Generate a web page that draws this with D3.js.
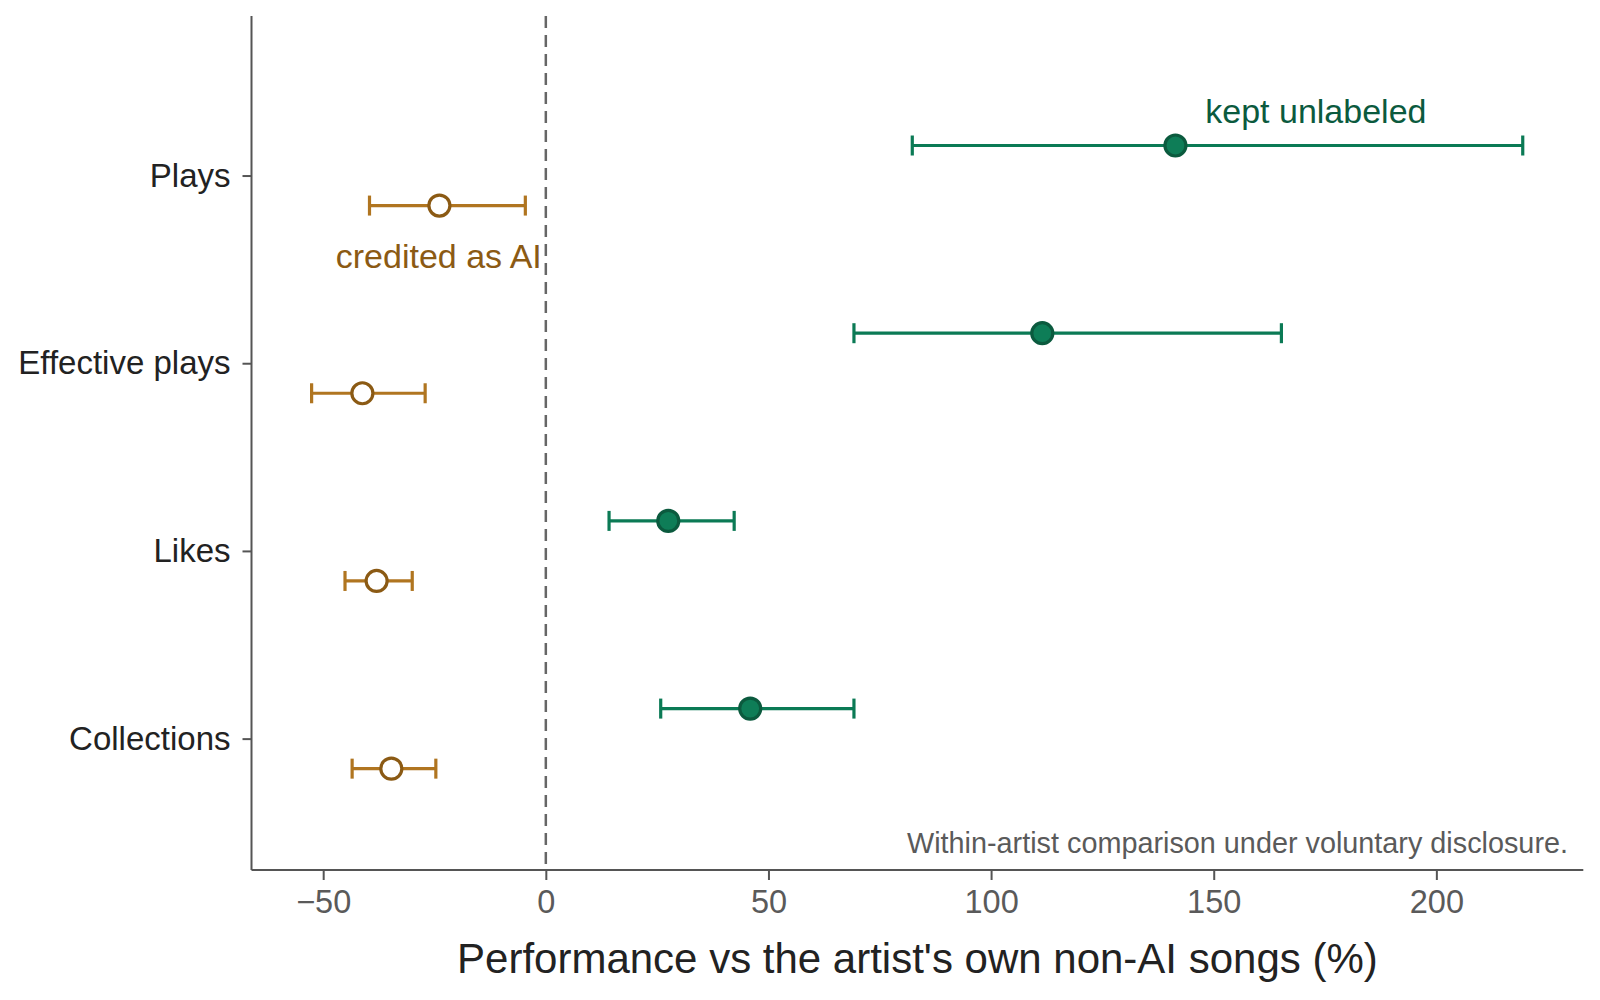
<!DOCTYPE html>
<html lang="en">
<head>
    <meta charset="UTF-8">
    <title>Performance vs the artist's own non-AI songs</title>
    <script src="https://d3js.org/d3.v7.min.js"></script>
    <style>
        body { margin: 0; background: #fff; }
        svg { display: block; font-family: "Liberation Sans", Arial, sans-serif; }
        .tick-y text { font-size: 33px; fill: #222; }
        .tick-x text { font-size: 32.5px; fill: #5a5a5a; }
        .axis-label { font-size: 42px; fill: #222; }
    </style>
</head>
<body>
    <div id="chart"></div>

    <script>
        // data
        const categories = ["Plays", "Effective plays", "Likes", "Collections"];

        const unlabeledEst = [141.4, 111.5, 27.5, 45.9];
        const unlabeledLo  = [82.3, 69.2, 14.2, 25.8];
        const unlabeledHi  = [219.4, 165.2, 42.3, 69.2];

        const creditedEst = [-23.9, -41.2, -38.0, -34.7];
        const creditedLo  = [-39.6, -52.6, -45.1, -43.5];
        const creditedHi  = [-4.6, -27.1, -30.0, -24.7];

        const xTicks = [-50, 0, 50, 100, 150, 200];

        const width = 1600, height = 1000;
        const margin = { top: 16, right: 16.7, bottom: 130, left: 251.5 };

        const svg = d3.select("#chart").append("svg")
            .attr("width", width)
            .attr("height", height);

        const x = d3.scaleLinear()
            .domain([-66.1, 233])
            .range([margin.left, width - margin.right]);

        // categories placed top to bottom, Plays at 3 ... Collections at 0
        const catPos = d => categories.length - 1 - categories.indexOf(d);
        const y = d3.scaleLinear()
            .domain([-0.7, 3.85])
            .range([height - margin.bottom, margin.top]);

        const offset = 0.16;

        const series = [
            { name: "kept unlabeled", est: unlabeledEst, lo: unlabeledLo, hi: unlabeledHi,
              dy: offset, line: "#0b7a55", fill: "#0e7d57", stroke: "#0b5a3e" },
            { name: "credited as AI", est: creditedEst, lo: creditedLo, hi: creditedHi,
              dy: -offset, line: "#b07520", fill: "#ffffff", stroke: "#8b5a14" }
        ];

        // reference line at zero
        svg.append("line")
            .attr("x1", x(0)).attr("x2", x(0))
            .attr("y1", margin.top).attr("y2", height - margin.bottom)
            .attr("stroke", "#666")
            .attr("stroke-width", 2.5)
            .attr("stroke-dasharray", "12,7");

        // axes
        const xAxis = svg.append("g")
            .attr("class", "tick-x")
            .attr("transform", `translate(0,${height - margin.bottom})`)
            .call(d3.axisBottom(x).tickValues(xTicks).tickSize(10).tickPadding(10)
                .tickFormat(d => d < 0 ? "\u2212" + Math.abs(d) : d));
        xAxis.select(".domain").attr("stroke", "#555").attr("stroke-width", 2)
            .attr("d", `M${margin.left},0H${width - margin.right}`);
        xAxis.selectAll(".tick line").attr("stroke", "#555").attr("stroke-width", 2);
        xAxis.selectAll("text").attr("font-family", null).attr("font-size", null);

        const yAxis = svg.append("g")
            .attr("class", "tick-y")
            .attr("transform", `translate(${margin.left},0)`)
            .call(d3.axisLeft(y).tickValues(categories.map(catPos)).tickSize(9).tickPadding(12)
                .tickFormat(v => categories[categories.length - 1 - v]));
        yAxis.select(".domain").attr("stroke", "#555").attr("stroke-width", 2)
            .attr("d", `M0,${margin.top}V${height - margin.bottom}`);
        yAxis.selectAll(".tick line").attr("stroke", "#555").attr("stroke-width", 2);
        yAxis.selectAll("text").attr("font-family", null).attr("font-size", null);

        // error bars and points
        series.forEach(s => {
            const rows = categories.map((c, i) => ({ c: c, est: s.est[i], lo: s.lo[i], hi: s.hi[i] }));
            const g = svg.append("g");
            const yy = d => y(catPos(d.c) + s.dy);

            g.selectAll(".ci").data(rows).enter().append("line")
                .attr("x1", d => x(d.lo)).attr("x2", d => x(d.hi))
                .attr("y1", yy).attr("y2", yy)
                .attr("stroke", s.line).attr("stroke-width", 3.2);

            ["lo", "hi"].forEach(k => {
                g.selectAll(".cap-" + k).data(rows).enter().append("line")
                    .attr("x1", d => x(d[k])).attr("x2", d => x(d[k]))
                    .attr("y1", d => yy(d) - 10).attr("y2", d => yy(d) + 10)
                    .attr("stroke", s.line).attr("stroke-width", 3.2);
            });

            g.selectAll("circle").data(rows).enter().append("circle")
                .attr("cx", d => x(d.est)).attr("cy", yy)
                .attr("r", 10.5)
                .attr("fill", s.fill)
                .attr("stroke", s.stroke)
                .attr("stroke-width", 3.2);
        });

        // direct labels
        svg.append("text")
            .attr("x", x(148.1)).attr("y", y(3.28))
            .attr("font-size", 34).attr("fill", "#0b5a3e")
            .text("kept unlabeled");

        svg.append("text")
            .attr("x", x(-0.9)).attr("y", y(2.51))
            .attr("text-anchor", "end")
            .attr("font-size", 34).attr("fill", "#8b5a14")
            .text("credited as AI");

        svg.append("text")
            .attr("x", 1568).attr("y", 853)
            .attr("text-anchor", "end")
            .attr("font-size", 28.8).attr("fill", "#5a5a5a")
            .text("Within-artist comparison under voluntary disclosure.");

        svg.append("text")
            .attr("class", "axis-label")
            .attr("x", (margin.left + width - margin.right) / 2)
            .attr("y", 972.7)
            .attr("text-anchor", "middle")
            .text("Performance vs the artist's own non-AI songs (%)");
    </script>
</body>
</html>
